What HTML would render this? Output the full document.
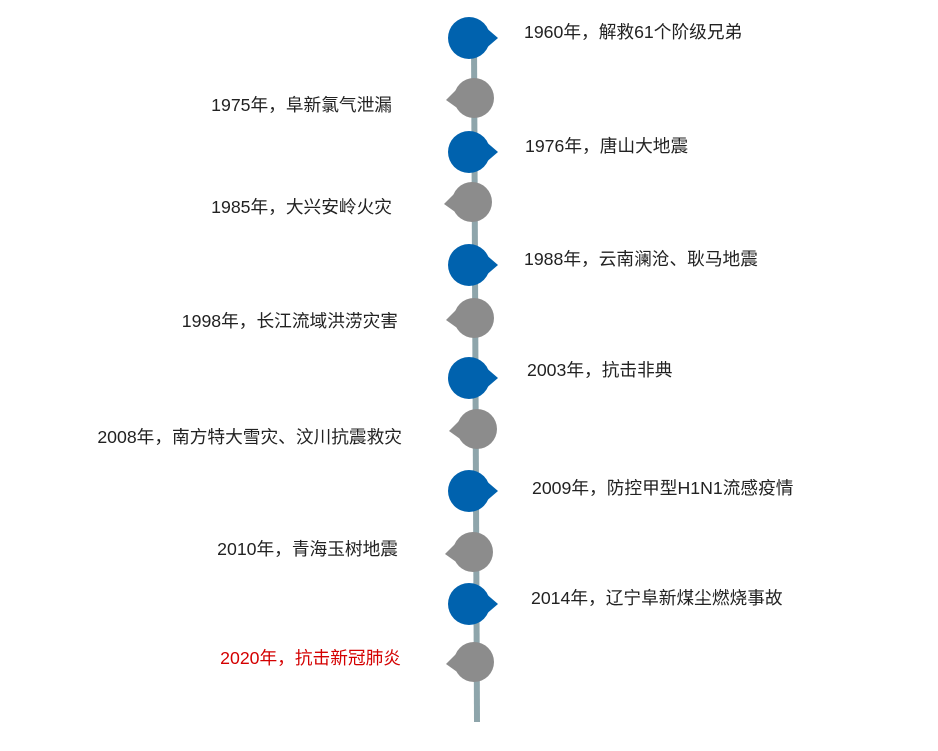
<!DOCTYPE html>
<html><head><meta charset="utf-8"><style>
html,body{margin:0;padding:0;background:#fff;}
svg{display:block}
text{font-family:"Liberation Sans","Noto Sans CJK SC",sans-serif;font-size:17.7px;fill:#222;}
</style></head><body>
<svg width="938" height="751" viewBox="0 0 938 751" xmlns="http://www.w3.org/2000/svg">
<line x1="474" y1="40" x2="477" y2="722" stroke="#8ea5ab" stroke-width="6"/>
<g fill="#0062ae">
<circle cx="469" cy="38" r="21"/><path d="M484 26 L498 38 L484 50Z"/>
<circle cx="469" cy="152" r="21"/><path d="M484 140 L498 152 L484 164Z"/>
<circle cx="469" cy="265" r="21"/><path d="M484 253 L498 265 L484 277Z"/>
<circle cx="469" cy="378" r="21"/><path d="M484 366 L498 378 L484 390Z"/>
<circle cx="469" cy="491" r="21"/><path d="M484 479 L498 491 L484 503Z"/>
<circle cx="469" cy="604" r="21"/><path d="M484 592 L498 604 L484 616Z"/>
</g>
<g fill="#8c8c8c">
<circle cx="474" cy="98" r="20"/><path d="M460 86 L446 100 L460 110Z"/>
<circle cx="472" cy="202" r="20"/><path d="M458 190 L444 204 L458 214Z"/>
<circle cx="474" cy="318" r="20"/><path d="M460 306 L446 320 L460 330Z"/>
<circle cx="477" cy="429" r="20"/><path d="M463 417 L449 431 L463 441Z"/>
<circle cx="473" cy="552" r="20"/><path d="M459 540 L445 554 L459 564Z"/>
<circle cx="474" cy="662" r="20"/><path d="M460 650 L446 664 L460 674Z"/>
</g>
<text x="524" y="38">1960年，解救61个阶级兄弟</text>
<text x="525" y="152">1976年，唐山大地震</text>
<text x="524" y="265">1988年，云南澜沧、耿马地震</text>
<text x="527" y="376">2003年，抗击非典</text>
<text x="532" y="494">2009年，防控甲型H1N1流感疫情</text>
<text x="531" y="604">2014年，辽宁阜新煤尘燃烧事故</text>
<g text-anchor="end">
<text x="392" y="111">1975年，阜新氯气泄漏</text>
<text x="392" y="213">1985年，大兴安岭火灾</text>
<text x="398" y="327">1998年，长江流域洪涝灾害</text>
<text x="402" y="443">2008年，南方特大雪灾、汶川抗震救灾</text>
<text x="398" y="555">2010年，青海玉树地震</text>
<text x="401" y="664" style="fill:#d40000">2020年，抗击新冠肺炎</text>
</g>
</svg>
</body></html>
